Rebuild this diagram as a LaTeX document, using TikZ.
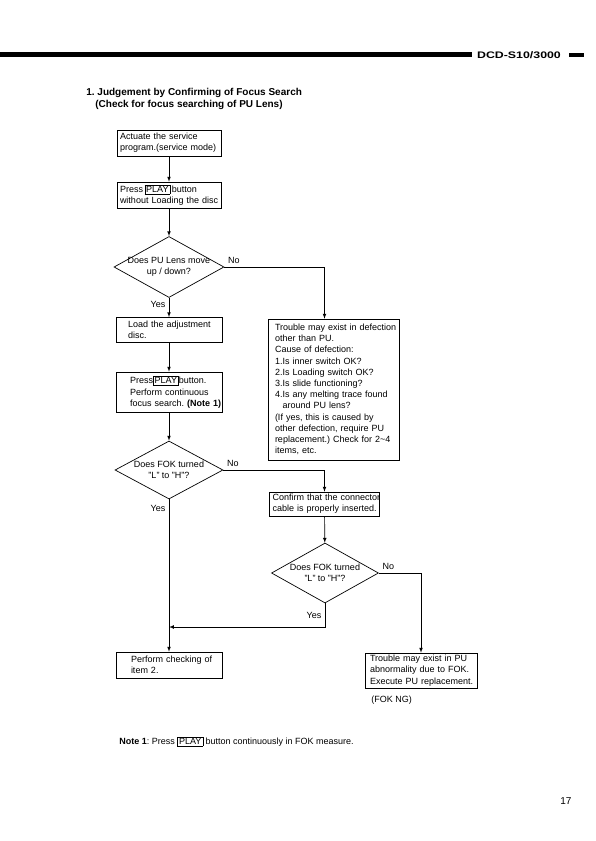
\documentclass[tikz,border=0pt]{standalone}
\usepackage{graphicx}
\usepackage{fontspec}
\setmainfont{Liberation Sans}
\usetikzlibrary{shapes.geometric}
\frenchspacing
\newcommand{\keybox}[1]{{\setlength{\fboxsep}{1.2pt}\setlength{\fboxrule}{0.5pt}\fbox{#1}}}

\begin{document}
\begin{tikzpicture}[x=1pt,y=-1pt,>=latex,line width=0.7pt,
  box/.style={draw,rectangle,align=left,inner xsep=0pt,inner ysep=2pt,
    font=\fontsize{9}{11.2}\selectfont,
    execute at begin node={\leftskip=#1\rightskip=-20pt plus 1fil}},
  ask/.style={draw,diamond,aspect=2,inner xsep=-6pt,inner ysep=0pt,align=center,
    font=\fontsize{9}{11.2}\selectfont},
  tag/.style={font=\fontsize{9}{11}\selectfont},
  txt/.style={inner sep=0pt,font=\fontsize{9}{11}\selectfont}]
\fill[white] (0,0) rectangle (596,841);
\useasboundingbox (0,0) rectangle (596,841);
% header
\draw[line width=4.5pt] (0,54.5)--(472,54.5);
\node[txt,font=\fontsize{9.5}{9.5}\bfseries\selectfont] (model) at (519,55) {\scalebox{1.3}[1]{DCD-S10/3000}};
\fill (569,52.5) rectangle (584,57);
\node[txt,anchor=base west,font=\fontsize{10}{12}\bfseries\selectfont] (title) at (86,95) {1. Judgement by Confirming of Focus Search};
\node[txt,anchor=base west,font=\fontsize{10}{12}\bfseries\selectfont] (subtitle) at (95,107.5) {(Check for focus searching of PU Lens)};
% left column
\node[box=3pt,text width=104pt,minimum height=26pt] (actuate) at (169,143) {Actuate the service\\program.(service mode)};
\node[box=3pt,text width=104pt,minimum height=26pt] (press) at (169,195) {Press\,\keybox{PLAY}\,button\\without Loading the disc};
\node[ask,minimum width=110pt,minimum height=61pt] (lens) at (169,267) {Does PU Lens move\\up / down?};
\node[box=12pt,text width=106pt,minimum height=25pt] (load) at (169,330) {Load the adjustment\\disc.};
\node[box=14pt,text width=106pt,minimum height=40pt] (search) at (169,392) {Press\keybox{PLAY}button.\\Perform continuous\\focus search. \textbf{(Note 1)}};
\node[ask,minimum width=108pt,minimum height=58pt] (fok) at (169,470) {Does FOK turned\\"L" to "H"?};
\node[box=15pt,text width=106pt,minimum height=26pt] (item) at (169,665) {Perform checking of\\item 2.};
% right column
\node[box=7pt,text width=131pt,minimum height=141pt] (other) at (333.5,389.5) {Trouble may exist in defection\\other than PU.\\Cause of defection:\\1.Is inner switch OK?\\2.Is Loading switch OK?\\3.Is slide functioning?\\4.Is any melting trace found\\\leavevmode\phantom{4.}around PU lens?\\(If yes, this is caused by\\other defection, require PU\\replacement.) Check for 2\textasciitilde4\\items, etc.};
\node[box=3pt,text width=110pt,minimum height=24pt] (cable) at (324.5,504) {Confirm that the connector\\cable is properly inserted.};
\node[ask,minimum width=107pt,minimum height=60pt] (fokb) at (325,573) {Does FOK turned\\"L" to "H"?};
\node[box=5pt,text width=112pt,minimum height=35pt] (pu) at (421,670.5) {Trouble may exist in PU\\abnormality due to FOK.\\Execute PU replacement.};
\node[txt,anchor=base west] (fokng) at (371,702) {(FOK NG)};
\coordinate (join) at (169,627);
% connectors
\draw[->] (actuate) -- (press);
\draw[->] (press) -- (lens);
\draw[->] (lens) -- node[tag,left,pos=0.35]{Yes} (load);
\draw[->] (load) -- (search);
\draw[->] (search) -- (fok);
\draw[->] (fok) -- node[tag,left,pos=0.06]{Yes} (item);
\draw[->] (lens.east) node[tag,above right]{No} -| (cable.north |- other.north);
\draw[->] (fok.east) node[tag,above right]{No} -| (cable);
\draw[->] (cable) -- (fokb);
\draw[->] (fokb.east) node[tag,above right]{No} -| (pu);
\draw[->] (fokb.south) |- node[tag,left,pos=0.25]{Yes} (join);
% note
\node[txt,anchor=base west] (note) at (119,744.5) {\textbf{Note 1}: Press \keybox{PLAY} button continuously in FOK measure.};
\node[txt,anchor=base west,font=\fontsize{10}{12}\selectfont] (page) at (560,804) {17};
\end{tikzpicture}
\end{document}
